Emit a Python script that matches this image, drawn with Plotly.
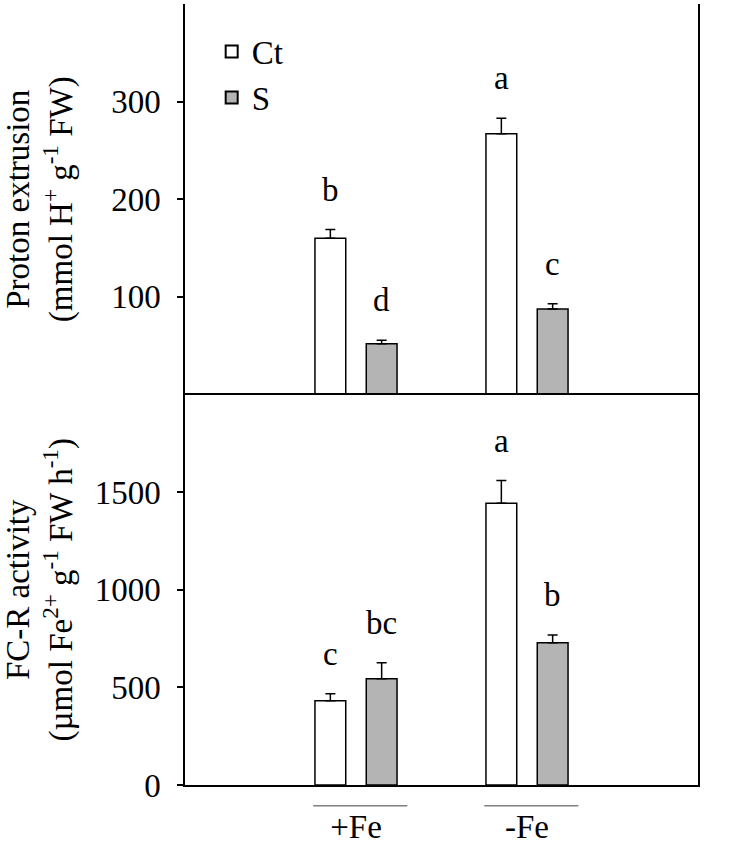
import plotly.graph_objects as go

# ---- data ----
treatments = ["+Fe", "-Fe"]
series_names = ["Ct", "S"]

proton_ct = [160, 267]
proton_ct_err = [9, 16]
proton_s = [52, 87.5]
proton_s_err = [3.5, 5.5]
proton_ct_letters = ["b", "a"]
proton_s_letters = ["d", "c"]

fcr_ct = [431, 1443]
fcr_ct_err = [36, 116]
fcr_s = [544, 728]
fcr_s_err = [82, 40]
fcr_ct_letters = ["c", "a"]
fcr_s_letters = ["bc", "b"]

proton_ticks = [100, 200, 300]
fcr_ticks = [0, 500, 1000, 1500]

# ---- style ----
FONT = "Liberation Serif, Times New Roman, serif"
FS = 33
GRAY = "#b4b4b4"
BARGAP = 0.4
BARGROUPGAP = 0.4
half_offset = (1 - BARGAP) / 4  # bar-centre offset from category centre

fig = go.Figure()

def add_bars(vals, errs, name, color, yaxis, show):
    fig.add_trace(go.Bar(
        x=treatments, y=vals, name=name, yaxis=yaxis, xaxis="x",
        marker=dict(color=color, line=dict(color="black", width=1.5)),
        error_y=dict(type="data", array=errs, arrayminus=[0] * len(errs),
                     symmetric=False, color="black", thickness=1.5, width=5),
        showlegend=show, legendgroup=name, offsetgroup=name,
    ))

add_bars(proton_ct, proton_ct_err, series_names[0], "white", "y", True)
add_bars(proton_s, proton_s_err, series_names[1], GRAY, "y", True)
add_bars(fcr_ct, fcr_ct_err, series_names[0], "white", "y2", False)
add_bars(fcr_s, fcr_s_err, series_names[1], GRAY, "y2", False)

annotations = []
def add_letters(vals, errs, letters, sign, yref):
    for i, (v, e, t) in enumerate(zip(vals, errs, letters)):
        annotations.append(dict(
            x=i + sign * half_offset, y=v + e, xref="x", yref=yref,
            text=t, showarrow=False, yanchor="bottom", yshift=20,
            font=dict(family=FONT, size=FS, color="black"),
        ))

add_letters(proton_ct, proton_ct_err, proton_ct_letters, -1, "y")
add_letters(proton_s, proton_s_err, proton_s_letters, 1, "y")
add_letters(fcr_ct, fcr_ct_err, fcr_ct_letters, -1, "y2")
add_letters(fcr_s, fcr_s_err, fcr_s_letters, 1, "y2")

shapes = []
for i, _ in enumerate(treatments):
    shapes.append(dict(type="line", xref="x", yref="paper",
                       x0=i - 0.25, x1=i + 0.30, y0=-0.0265, y1=-0.0265,
                       line=dict(color="#7f7f7f", width=1.5)))

axis_common = dict(showline=True, linecolor="black", linewidth=1.5, mirror=True,
                   showgrid=False, zeroline=False, automargin=False,
                   tickfont=dict(family=FONT, size=FS, color="black"))

fig.update_layout(
    width=733, height=845,
    margin=dict(l=185, r=35, t=4, b=60),
    paper_bgcolor="white", plot_bgcolor="white",
    barmode="group", bargap=BARGAP, bargroupgap=BARGROUPGAP,
    font=dict(family=FONT, size=FS, color="black"),
    xaxis=dict(type="category", categoryorder="array", categoryarray=treatments,
               range=[-1, 2], anchor="y2", ticks="", ticklabelstandoff=12,
               **axis_common),
    yaxis=dict(domain=[0.5, 1], range=[0, 400], tickvals=proton_ticks,
               ticks="outside", ticklen=6, tickwidth=1.5, tickcolor="black",
               ticklabelstandoff=10,
               title=dict(text="Proton extrusion<br>(mmol H<sup>+</sup> g<sup>-1</sup> FW)",
                          font=dict(family=FONT, size=FS), standoff=32),
               anchor="x", **axis_common),
    yaxis2=dict(domain=[0, 0.5], range=[0, 2000], tickvals=fcr_ticks,
                ticks="outside", ticklen=6, tickwidth=1.5, tickcolor="black",
                ticklabelstandoff=10,
                title=dict(text="FC-R activity<br>(µmol Fe<sup>2+</sup> g<sup>-1</sup> FW h<sup>-1</sup>)",
                           font=dict(family=FONT, size=FS), standoff=32),
                anchor="x", **axis_common),
    legend=dict(x=0.052, y=0.975, xanchor="left", yanchor="top",
                bgcolor="rgba(0,0,0,0)", font=dict(family=FONT, size=FS),
                itemsizing="constant", tracegroupgap=0),
    annotations=annotations,
    shapes=shapes,
)

fig.write_html("out.html", config={"displayModeBar": False},
               post_script="document.body.style.margin='0';")
